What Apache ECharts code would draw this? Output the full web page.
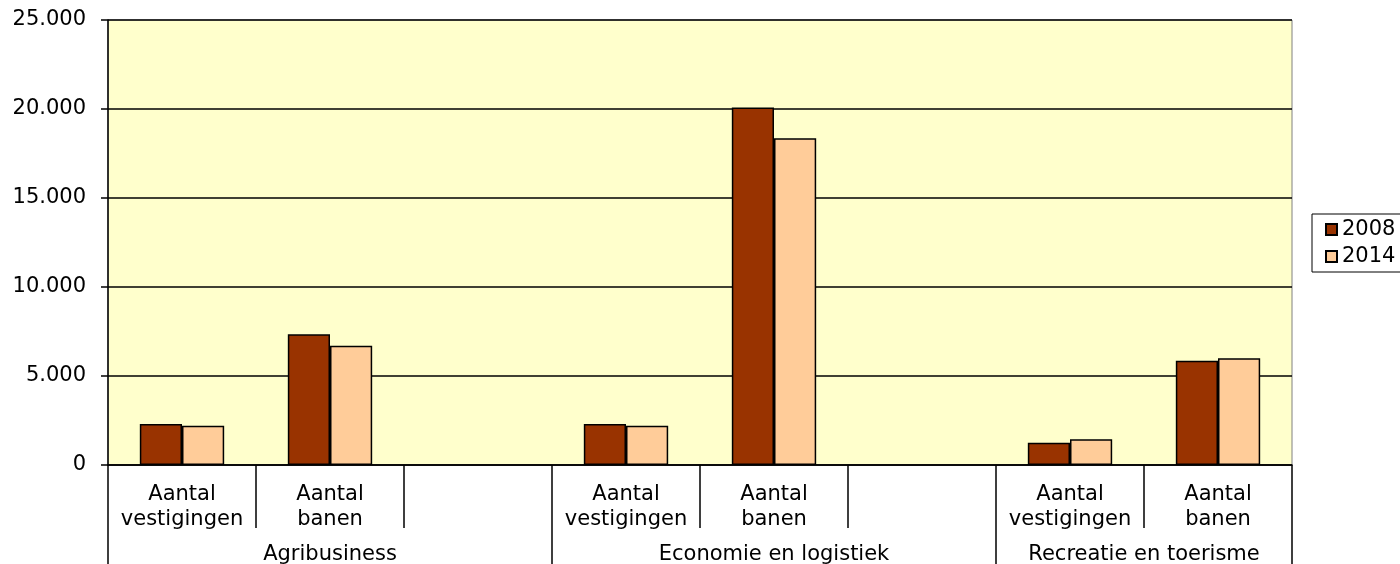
<!DOCTYPE html>
<html>
<head>
<meta charset="utf-8">
<script src="https://cdn.jsdelivr.net/npm/echarts@6/dist/echarts.min.js"></script>
<style>
  html, body { margin: 0; padding: 0; background: #fff; }
  #chart { width: 1400px; height: 564px; }
</style>
</head>
<body>
<div id="chart"></div>
<script>
// categorieën (lege kolom tussen de groepen)
var categories = ['Aantal\nvestigingen', 'Aantal\nbanen', '',
                  'Aantal\nvestigingen', 'Aantal\nbanen', '',
                  'Aantal\nvestigingen', 'Aantal\nbanen'];
// groeplabels op halve kolommen: 0..16
var groupSlots = ['', '', '', 'Agribusiness', '', '', '', '', '', 'Economie en logistiek',
                  '', '', '', '', 'Recreatie en toerisme', '', ''];
var groupBounds = [0, 6, 12, 16];

var values2008 = [2300, 7350, null, 2300, 20080, null, 1250, 5850];
var values2014 = [2200, 6700, null, 2200, 18350, null, 1450, 6000];

var font = 'DejaVu Sans';
var fs = 21;

var myChart = echarts.init(document.getElementById('chart'));

var option = {
    animation: false,
    textStyle: { fontFamily: font },
    grid: {
        left: 108,
        right: 108,
        top: 20,
        bottom: 99,
        containLabel: false,
        outerBoundsMode: 'none',
        show: true,
        backgroundColor: '#FFFFCC',
        borderColor: '#808080',
        borderWidth: 1
    },
    legend: {
        orient: 'vertical',
        left: 1312,
        top: 214,
        data: ['2008', '2014'],
        icon: 'rect',
        itemWidth: 11,
        itemHeight: 11,
        itemGap: 6,
        padding: [5, 10, 5, 13],
        borderColor: '#000',
        borderWidth: 1,
        textStyle: { fontFamily: font, fontSize: fs, color: '#000' }
    },
    xAxis: [{
        type: 'category',
        position: 'bottom',
        data: categories,
        axisLine: { lineStyle: { color: '#000', width: 1.5 } },
        axisTick: { show: true, interval: 0, length: 63, lineStyle: { color: '#000', width: 1.5 } },
        axisLabel: {
            interval: 0,
            margin: 17,
            color: '#000',
            fontFamily: font,
            fontSize: fs,
            lineHeight: 25
        }
    }, {
        type: 'category',
        position: 'bottom',
        boundaryGap: false,
        data: groupSlots,
        axisLine: { show: false },
        axisTick: {
            show: true,
            length: 100,
            interval: function (i) { return groupBounds.indexOf(i) >= 0; },
            lineStyle: { color: '#000', width: 1.5 }
        },
        axisLabel: {
            interval: 0,
            margin: 77,
            color: '#000',
            fontFamily: font,
            fontSize: fs,
            lineHeight: 25
        }
    }],
    yAxis: {
        type: 'value',
        min: 0,
        max: 25000,
        interval: 5000,
        axisLine: { show: true, lineStyle: { color: '#000', width: 1.5 } },
        axisTick: { show: true, length: 7, lineStyle: { color: '#000', width: 1.5 } },
        splitLine: { lineStyle: { color: '#000', width: 1.5 } },
        axisLabel: {
            margin: 22,
            color: '#000',
            fontFamily: font,
            fontSize: fs,
            formatter: function (v) {
                return String(v).replace(/\B(?=(\d{3})+(?!\d))/g, '.');
            }
        }
    },
    series: [{
        name: '2008',
        type: 'bar',
        data: values2008,
        barGap: 0,
        barCategoryGap: '43%',
        itemStyle: { color: '#993300', borderColor: '#000', borderWidth: 1.5 }
    }, {
        name: '2014',
        type: 'bar',
        data: values2014,
        itemStyle: { color: '#FFCC99', borderColor: '#000', borderWidth: 1.5 }
    }]
};

myChart.setOption(option);
</script>
</body>
</html>
